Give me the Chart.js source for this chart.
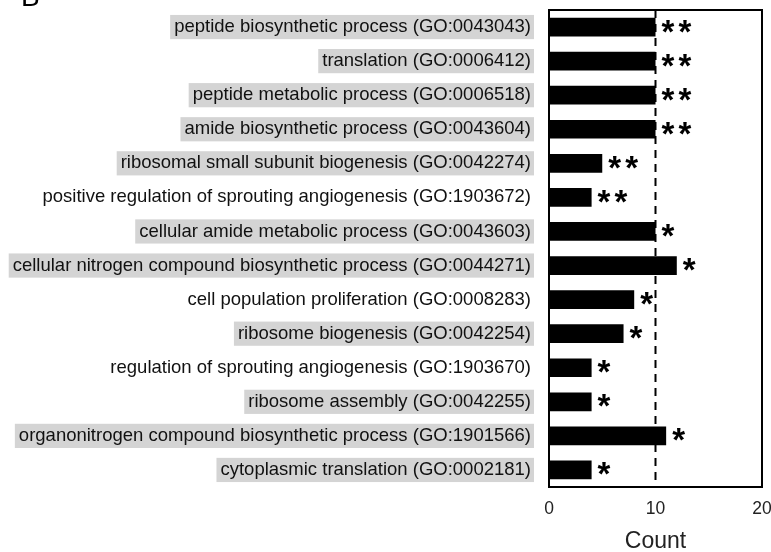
<!DOCTYPE html>
<html lang="en">
<head>
  <meta charset="UTF-8" />
  <title>GO enrichment counts</title>
  <script src="https://cdn.jsdelivr.net/npm/chart.js"></script>
  <style>
    html, body { margin: 0; padding: 0; background: #fff; }
    #wrap { width: 771px; height: 552px; position: relative; }
  </style>
</head>
<body>
  <div id="wrap"><canvas id="chartCanvas"></canvas></div>

  <script>
    const terms = [
      'peptide biosynthetic process (GO:0043043)',
      'translation (GO:0006412)',
      'peptide metabolic process (GO:0006518)',
      'amide biosynthetic process (GO:0043604)',
      'ribosomal small subunit biogenesis (GO:0042274)',
      'positive regulation of sprouting angiogenesis (GO:1903672)',
      'cellular amide metabolic process (GO:0043603)',
      'cellular nitrogen compound biosynthetic process (GO:0044271)',
      'cell population proliferation (GO:0008283)',
      'ribosome biogenesis (GO:0042254)',
      'regulation of sprouting angiogenesis (GO:1903670)',
      'ribosome assembly (GO:0042255)',
      'organonitrogen compound biosynthetic process (GO:1901566)',
      'cytoplasmic translation (GO:0002181)'
    ];
    const counts = [10, 10, 10, 10, 5, 4, 10, 12, 8, 7, 4, 4, 11, 4];
    const stars = ['**', '**', '**', '**', '**', '**', '*', '*', '*', '*', '*', '*', '*', '*'];
    const shaded = [true, true, true, true, true, false, true, true, false, true, false, true, true, true];
    const xTicks = [0, 10, 20];
    const cutoff = 10;

    const FONT = "'Liberation Sans', Arial, sans-serif";

    // dashed reference line, box around the plot, star marks and panel letter
    const extras = {
      id: 'extras',
      afterDatasetsDraw(chart) {
        const { ctx, chartArea: a, scales } = chart;
        const xs = scales.x;
        ctx.save();

        const xc = xs.getPixelForValue(cutoff);
        ctx.strokeStyle = '#000';
        ctx.lineWidth = 2;
        ctx.setLineDash([8, 6]);
        ctx.beginPath();
        ctx.moveTo(xc, a.top);
        ctx.lineTo(xc, a.bottom);
        ctx.stroke();
        ctx.setLineDash([]);

        ctx.strokeRect(a.left, a.top, a.right - a.left, a.bottom - a.top);

        ctx.fillStyle = '#000';
        ctx.font = 'bold 33px ' + FONT;
        ctx.textAlign = 'left';
        ctx.textBaseline = 'alphabetic';
        const m = ctx.measureText('*');
        const w = m.actualBoundingBoxRight + m.actualBoundingBoxLeft;
        const meta = chart.getDatasetMeta(0);
        meta.data.forEach((bar, i) => {
          const y = bar.y - 1 + (m.actualBoundingBoxAscent - m.actualBoundingBoxDescent) / 2;
          let x = bar.x + 6;
          for (const s of stars[i]) {
            ctx.fillText(s, x + m.actualBoundingBoxLeft, y);
            x += w + 4;
          }
        });

        ctx.font = '28px ' + FONT;
        ctx.fillText('B', 21, 6);
        ctx.restore();
      }
    };

    new Chart(document.getElementById('chartCanvas'), {
      type: 'bar',
      data: {
        labels: terms,
        datasets: [{
          data: counts,
          backgroundColor: '#000',
          borderWidth: 0,
          barPercentage: 0.55,
          categoryPercentage: 1
        }]
      },
      options: {
        indexAxis: 'y',
        responsive: true,
        maintainAspectRatio: false,
        animation: false,
        layout: { padding: { top: 10, left: 0, right: 9, bottom: 0 } },
        plugins: {
          legend: { display: false },
          tooltip: { enabled: false }
        },
        scales: {
          x: {
            min: 0,
            max: 20,
            afterBuildTicks: s => { s.ticks = xTicks.map(v => ({ value: v })); },
            afterFit: s => { s.height = 65; s.paddingLeft = 0; s.paddingRight = 0; },
            grid: { display: false, drawTicks: false },
            border: { display: false },
            ticks: { color: '#222', padding: 12, font: { family: FONT, size: 17.5 } },
            title: { display: true, text: 'Count', color: '#222', padding: { top: 0, bottom: -3 }, font: { family: FONT, size: 23 } }
          },
          y: {
            afterFit: s => { s.width = 549; s.paddingTop = 0; s.paddingBottom = 0; },
            grid: { display: false, drawTicks: false },
            border: { display: false },
            ticks: {
              color: '#111',
              padding: 18,
              autoSkip: false,
              font: { family: FONT, size: 18.5 },
              showLabelBackdrop: c => shaded[c.index],
              backdropColor: c => shaded[c.index] ? '#d4d4d4' : 'rgba(0,0,0,0)',
              backdropPadding: { left: 4, right: 3, top: 1, bottom: 1 }
            }
          }
        }
      },
      plugins: [extras]
    });
  </script>
</body>
</html>
